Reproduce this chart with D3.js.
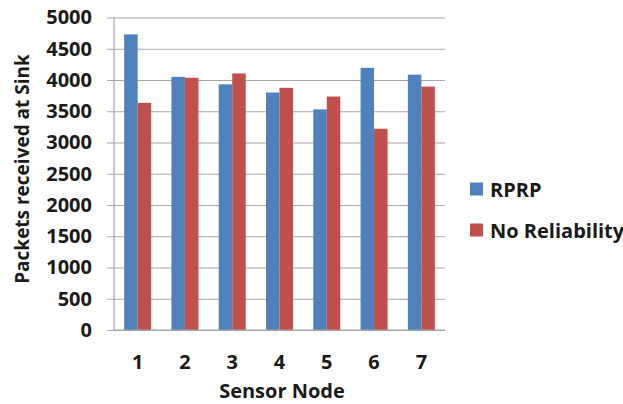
<!DOCTYPE html>
<html><head><meta charset="utf-8">
<script src="https://cdn.jsdelivr.net/npm/d3@7"></script>
<style>body{margin:0;background:#fff}svg{display:block}text{font-family:"Open Sans",sans-serif;font-weight:bold;fill:#1a1a1a}</style>
</head><body><svg id="c" width="623" height="404"></svg>
<script>
const categories = ["1","2","3","4","5","6","7"];
const seriesNames = ["RPRP","No Reliability"];
const rprp = [4730, 4050, 3930, 3800, 3530, 4195, 4085];
const noReliability = [3635, 4035, 4105, 3875, 3735, 3220, 3895];
const yTicks = [0,500,1000,1500,2000,2500,3000,3500,4000,4500,5000];
const colors = ["#4F81BD","#C0504D"];

const svg = d3.select("#c");
const m = {l:114, r:445, t:17.5, b:330};
const x = d3.scaleBand().domain(categories).range([m.l, m.r]).paddingInner(0).paddingOuter(0);
const x1 = d3.scaleBand().domain(seriesNames).range([0, x.bandwidth()]).paddingInner(0).paddingOuter(0.75);
const y = d3.scaleLinear().domain([0,5000]).range([m.b, m.t]);

// gridlines
const yAxis = d3.axisLeft(y).tickValues(yTicks).tickFormat(d3.format("d")).tickSize(-(m.r-m.l)).tickSizeOuter(0).tickPadding(22);
const gy = svg.append("g").attr("transform",`translate(${m.l},0)`).call(yAxis);
gy.select(".domain").remove();
gy.selectAll(".tick line").attr("stroke","#a6a6a6").attr("stroke-width",1.2).attr("x1",-7);
gy.selectAll(".tick text").attr("font-size",20).attr("fill","#1a1a1a").style("font-family","'Open Sans',sans-serif").style("font-weight","bold");

// axis vertical line
svg.append("line").attr("x1",m.l).attr("x2",m.l).attr("y1",m.t).attr("y2",m.b).attr("stroke","#a6a6a6").attr("stroke-width",1.2);

const data = categories.map((c,i)=>({c, vals:[rprp[i], noReliability[i]]}));
const groups = svg.append("g").selectAll("g").data(data).join("g").attr("transform",d=>`translate(${x(d.c)},0)`);
groups.selectAll("rect").data(d=>d.vals.map((v,j)=>({v,s:seriesNames[j],j}))).join("rect")
  .attr("x",d=>x1(d.s)).attr("width",x1.bandwidth())
  .attr("y",d=>y(d.v)).attr("height",d=>y(0)-y(d.v)).attr("fill",d=>colors[d.j]);

// bottom axis line
svg.append("line").attr("x1",m.l).attr("x2",m.r).attr("y1",m.b).attr("y2",m.b).attr("stroke","#a6a6a6").attr("stroke-width",1.2);

// x labels
const xAxis = d3.axisBottom(x).tickSize(0).tickPadding(25);
const gx = svg.append("g").attr("transform",`translate(0,${m.b})`).call(xAxis);
gx.select(".domain").remove();
gx.selectAll(".tick text").attr("font-size",20).attr("fill","#1a1a1a").style("font-family","'Open Sans',sans-serif").style("font-weight","bold");

// titles
svg.append("text").attr("x",282).attr("y",398).attr("text-anchor","middle").attr("font-size",20).text("Sensor Node");
svg.append("text").attr("transform","translate(22,169) rotate(-90)").attr("text-anchor","middle").attr("dominant-baseline","central").attr("font-size",19).text("Packets received at Sink");

// legend
const leg = svg.append("g").selectAll("g").data(seriesNames).join("g").attr("transform",(d,i)=>`translate(470,${189+i*41})`);
leg.append("rect").attr("x",0).attr("y",-6.5).attr("width",13).attr("height",13).attr("fill",(d,i)=>colors[i]);
leg.append("text").attr("x",20).attr("y",0).attr("dominant-baseline","central").attr("font-size",20).text(d=>d);
</script></body></html>
